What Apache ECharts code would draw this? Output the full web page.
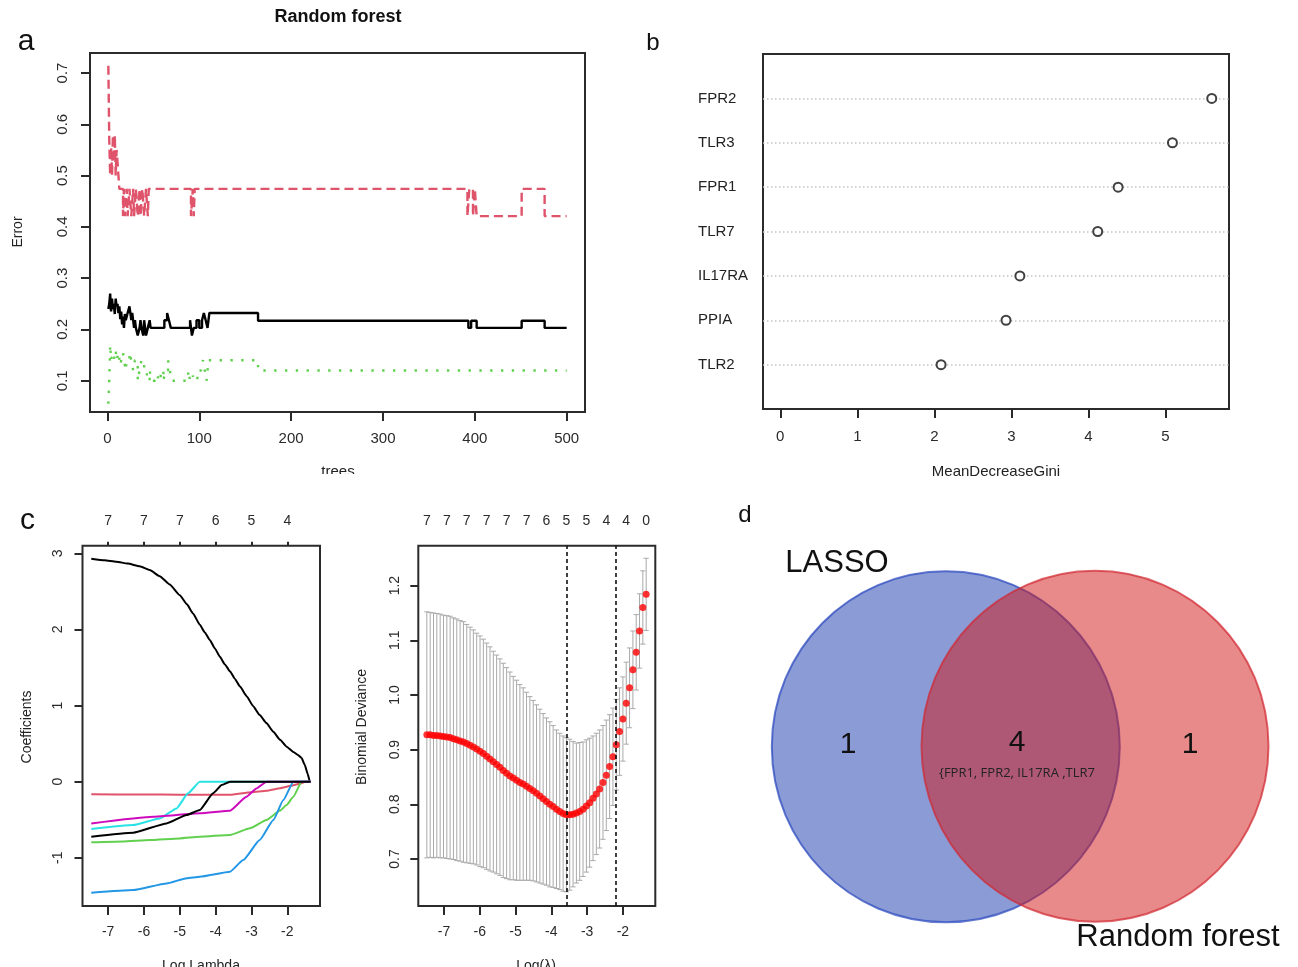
<!DOCTYPE html>
<html><head><meta charset="utf-8">
<script src="https://cdn.jsdelivr.net/npm/echarts@6/dist/echarts.min.js"></script>
<style>html,body{margin:0;padding:0;background:#fff}#main{width:1298px;height:967px}</style>
</head><body><div id="main"></div>
<script>
// ===== Panel a: Random forest error vs trees (change points: [tree, error]) =====
const rfOOB = [[1,0.24],[2,0.25],[3,0.27],[4,0.235],[5,0.26],[6,0.24],[7,0.25],[8,0.23],[9,0.26],[10,0.245],[11,0.25],[12,0.232],[13,0.245],[14,0.22],[15,0.235],[16,0.21],[17,0.225],[18,0.203],[19,0.23],[20,0.218],[22,0.232],[24,0.245],[25,0.232],[26,0.218],[27,0.232],[28,0.218],[29,0.203],[30,0.218],[31,0.203],[33,0.188],[35,0.203],[36,0.218],[37,0.203],[39,0.188],[40,0.218],[41,0.203],[42,0.188],[44,0.203],[46,0.218],[47,0.203],[62,0.218],[65,0.232],[67,0.218],[69,0.203],[90,0.218],[92,0.188],[94,0.203],[97,0.218],[100,0.203],[103,0.218],[105,0.232],[107,0.218],[109,0.203],[111,0.232],[164,0.217],[393,0.203],[396,0.217],[402,0.203],[451,0.217],[476,0.203],[500,0.203]];
const rfClass1 = [[1,0.714],[2,0.571],[3,0.5],[4,0.556],[5,0.5],[6,0.579],[7,0.526],[8,0.579],[9,0.5],[10,0.55],[11,0.526],[12,0.5],[13,0.474],[17,0.421],[18,0.474],[19,0.421],[21,0.474],[22,0.421],[24,0.474],[26,0.421],[28,0.474],[29,0.421],[31,0.474],[33,0.421],[35,0.474],[36,0.421],[38,0.474],[40,0.421],[42,0.474],[44,0.421],[45,0.474],[91,0.421],[93,0.474],[94,0.421],[95,0.474],[392,0.421],[394,0.474],[398,0.421],[400,0.474],[402,0.421],[451,0.474],[476,0.421],[500,0.421]];
const rfClass2 = [[1,0.055],[2,0.1],[3,0.17],[4,0.14],[5,0.15],[7,0.14],[9,0.16],[10,0.14],[12,0.155],[14,0.13],[15,0.14],[17,0.155],[18,0.14],[20,0.12],[21,0.14],[24,0.155],[26,0.14],[28,0.12],[30,0.14],[33,0.1],[35,0.12],[37,0.14],[40,0.12],[43,0.1],[46,0.12],[48,0.1],[52,0.11],[55,0.1],[58,0.12],[61,0.1],[63,0.12],[66,0.14],[68,0.12],[70,0.1],[88,0.12],[90,0.1],[93,0.11],[95,0.1],[98,0.12],[102,0.13],[104,0.14],[106,0.12],[108,0.1],[110,0.14],[164,0.12],[500,0.12]];
const rfXTicks = [0,100,200,300,400,500];
const rfYTicks = [0.1,0.2,0.3,0.4,0.5,0.6,0.7];

// ===== Panel b: MeanDecreaseGini =====
const giniGenes = ['FPR2','TLR3','FPR1','TLR7','IL17RA','PPIA','TLR2'];
const giniValues = [5.60,5.09,4.385,4.12,3.11,2.93,2.087];
const giniXTicks = [0,1,2,3,4,5];

// ===== Panel c (left): LASSO coefficient paths [logLambda, coef] =====
const coefPath1 = [[-7.47,2.93],[-7.1,2.91],[-6.77,2.89],[-6.45,2.865],[-6.12,2.83],[-5.84,2.78],[-5.56,2.70],[-5.28,2.59],[-5.0,2.45],[-4.8,2.33],[-4.63,2.21],[-4.44,2.06],[-4.3,1.96],[-4.16,1.86],[-4.02,1.75],[-3.88,1.64],[-3.74,1.54],[-3.6,1.45],[-3.46,1.35],[-3.32,1.25],[-3.13,1.12],[-2.95,0.99],[-2.77,0.875],[-2.58,0.77],[-2.39,0.655],[-2.2,0.55],[-2.02,0.46],[-1.83,0.39],[-1.7,0.35],[-1.6,0.31],[-1.51,0.22],[-1.43,0.1],[-1.37,0],[-1.35,0]];
const coefPath2 = [[-7.47,-0.165],[-6,-0.168],[-5,-0.170],[-4.4,-0.172],[-3.6,-0.172],[-3.0,-0.14],[-2.58,-0.12],[-2.2,-0.085],[-1.9,-0.055],[-1.6,-0.02],[-1.5,0],[-1.35,0]];
const coefPath3 = [[-7.47,-0.797],[-6.6,-0.785],[-5.84,-0.767],[-5.0,-0.745],[-4.44,-0.723],[-3.6,-0.70],[-3.04,-0.613],[-2.58,-0.504],[-2.2,-0.38],[-2.02,-0.307],[-1.83,-0.197],[-1.6,0],[-1.35,0]];
const coefPath4 = [[-7.47,-1.459],[-6.3,-1.424],[-5.37,-1.337],[-4.81,-1.27],[-4.44,-1.249],[-3.6,-1.183],[-3.23,-1.03],[-2.77,-0.767],[-2.39,-0.504],[-2.11,-0.241],[-1.83,0],[-1.35,0]];
const coefPath5 = [[-7.47,-0.622],[-6.3,-0.57],[-5.56,-0.482],[-5.09,-0.351],[-4.77,-0.153],[-4.44,0],[-1.35,0]];
const coefPath6 = [[-7.47,-0.548],[-5.74,-0.46],[-4.44,-0.416],[-3.6,-0.381],[-3.14,-0.197],[-2.86,-0.088],[-2.58,0],[-1.35,0]];
const coefPath7 = [[-7.47,-0.723],[-6.3,-0.67],[-5.37,-0.548],[-4.81,-0.438],[-4.44,-0.372],[-4.07,-0.153],[-3.83,-0.044],[-3.6,0],[-1.35,0]];
const coefColors = ['#000000','#DF536B','#61D04F','#2297E6','#28E2E5','#CD0BBC','#000000'];
const lambdaTicks = [-7,-6,-5,-4,-3,-2];
const coefTopLabels = ['7','7','7','6','5','4'];
const coefYTicks = [-1,0,1,2,3];

// ===== Panel c (right): cross-validation curve =====
const cvLogLambda = [-7.479,-7.386,-7.293,-7.200,-7.107,-7.014,-6.921,-6.829,-6.736,-6.643,-6.550,-6.457,-6.364,-6.271,-6.179,-6.086,-5.993,-5.900,-5.807,-5.714,-5.621,-5.529,-5.436,-5.343,-5.250,-5.157,-5.064,-4.971,-4.879,-4.786,-4.693,-4.600,-4.507,-4.414,-4.321,-4.229,-4.136,-4.043,-3.950,-3.857,-3.764,-3.671,-3.579,-3.486,-3.393,-3.300,-3.207,-3.114,-3.021,-2.929,-2.836,-2.743,-2.650,-2.557,-2.464,-2.371,-2.279,-2.186,-2.093,-2.000,-1.907,-1.814,-1.721,-1.629,-1.536,-1.443,-1.350];
const cvMean = [0.927,0.927,0.926,0.926,0.925,0.924,0.923,0.922,0.920,0.918,0.916,0.914,0.911,0.908,0.905,0.901,0.897,0.893,0.888,0.883,0.878,0.873,0.868,0.862,0.857,0.852,0.848,0.844,0.840,0.837,0.833,0.829,0.825,0.820,0.815,0.810,0.805,0.800,0.796,0.791,0.787,0.783,0.781,0.781,0.782,0.784,0.787,0.791,0.797,0.803,0.811,0.819,0.828,0.840,0.853,0.869,0.887,0.909,0.933,0.956,0.985,1.013,1.046,1.078,1.117,1.160,1.184];
const cvSD = [0.225,0.224,0.224,0.223,0.223,0.222,0.222,0.222,0.221,0.221,0.220,0.220,0.218,0.216,0.214,0.212,0.211,0.209,0.207,0.205,0.202,0.200,0.198,0.196,0.193,0.190,0.186,0.183,0.179,0.176,0.172,0.168,0.165,0.162,0.159,0.156,0.153,0.151,0.148,0.145,0.143,0.142,0.141,0.138,0.133,0.128,0.126,0.123,0.121,0.118,0.114,0.111,0.108,0.104,0.101,0.095,0.089,0.083,0.080,0.077,0.075,0.073,0.071,0.069,0.068,0.067,0.066];
const cvTopPos = [-7.479,-6.921,-6.364,-5.807,-5.250,-4.693,-4.136,-3.579,-3.021,-2.464,-1.907,-1.350];
const cvTopLabels = ['7','7','7','7','7','7','6','5','5','4','4','0'];
const cvYTicks = [0.7,0.8,0.9,1.0,1.1,1.2];
const lambdaMin = -3.579, lambda1se = -2.186;

// ===== Panel d: Venn =====
const vennSets = ['LASSO','Random forest'];
const vennCounts = [1,4,1];
const vennShared = ['FPR1','FPR2','IL17RA','TLR7'];

const FONT = '"Liberation Sans", Arial, sans-serif';
const AX = '#2a2a2a';

function mkGrid(l,t,w,h){return {left:l,top:t,width:w,height:h,show:true,borderColor:'#2b2b2b',borderWidth:2,backgroundColor:'transparent',containLabel:false,outerBoundsMode:'none'};}
function valAxis(opt){
  return Object.assign({
    type:'value', scale:true,
    axisLine:{show:false,onZero:false}, splitLine:{show:false},
    axisTick:{show:true,length:9,lineStyle:{color:AX,width:2}},
    axisLabel:{fontSize:15,color:AX,fontFamily:FONT}
  }, opt);
}
const fmtNum = v => (Math.round(v*10)/10).toFixed(1);

const chart = echarts.init(document.getElementById('main'), null, {renderer:'canvas'});

const errBarData = cvLogLambda.map((x,i)=>[x, cvMean[i]-cvSD[i], cvMean[i]+cvSD[i]]);

const option = {
  backgroundColor:'#fff',
  animation:false,
  textStyle:{fontFamily:FONT},
  grid:[
    mkGrid(90,53,495,359),
    mkGrid(763,54,466,355),
    mkGrid(82.5,545.7,237.5,360.3),
    mkGrid(418.3,545.7,237,360.3)
  ],
  xAxis:[
    valAxis({gridIndex:0,min:-18.96,max:519.96,
      axisTick:{show:true,length:9,lineStyle:{color:AX,width:2},customValues:rfXTicks},
      axisLabel:{fontSize:15,color:AX,fontFamily:FONT,margin:19,customValues:rfXTicks}}),
    valAxis({gridIndex:1,min:-0.224,max:5.824,
      axisTick:{show:true,length:9,lineStyle:{color:AX,width:2},customValues:giniXTicks},
      axisLabel:{fontSize:15,color:AX,fontFamily:FONT,margin:20,customValues:giniXTicks}}),
    valAxis({gridIndex:2,min:-7.715,max:-1.087,
      axisTick:{show:true,length:9,lineStyle:{color:AX,width:2},customValues:lambdaTicks},
      axisLabel:{fontSize:14,color:AX,fontFamily:FONT,margin:19,customValues:lambdaTicks}}),
    valAxis({gridIndex:2,position:'top',min:-7.715,max:-1.087,
      axisTick:{show:true,length:4,lineStyle:{color:AX,width:2},customValues:lambdaTicks},
      axisLabel:{fontSize:14,color:AX,fontFamily:FONT,margin:18,customValues:lambdaTicks,
        formatter:v=>coefTopLabels[lambdaTicks.findIndex(t=>Math.abs(t-v)<1e-6)]||''}}),
    valAxis({gridIndex:3,min:-7.718,max:-1.095,
      axisTick:{show:true,length:9,lineStyle:{color:AX,width:2},customValues:lambdaTicks},
      axisLabel:{fontSize:14,color:AX,fontFamily:FONT,margin:19,customValues:lambdaTicks}}),
    valAxis({gridIndex:3,position:'top',min:-7.718,max:-1.095,
      axisTick:{show:false},
      axisLabel:{fontSize:14,color:AX,fontFamily:FONT,margin:18,customValues:cvTopPos,
        formatter:v=>cvTopLabels[cvTopPos.findIndex(t=>Math.abs(t-v)<1e-6)]||''}})
  ],
  yAxis:[
    valAxis({gridIndex:0,min:0.039,max:0.739,
      axisTick:{show:true,length:9,lineStyle:{color:AX,width:2},customValues:rfYTicks},
      axisLabel:{fontSize:15,color:AX,fontFamily:FONT,margin:20,rotate:90,customValues:rfYTicks,formatter:fmtNum}}),
    valAxis({gridIndex:1,min:0,max:8,
      axisTick:{show:false},
      axisLabel:{fontSize:15,color:'#222',fontFamily:FONT,margin:65,align:'left',customValues:[1,2,3,4,5,6,7],
        formatter:v=>giniGenes[giniGenes.length-Math.round(v)]}}),
    valAxis({gridIndex:2,min:-1.633,max:3.1,
      axisTick:{show:true,length:8,lineStyle:{color:AX,width:2},customValues:coefYTicks},
      axisLabel:{fontSize:14,color:AX,fontFamily:FONT,margin:17,rotate:90,customValues:coefYTicks}}),
    valAxis({gridIndex:3,min:0.614,max:1.273,
      axisTick:{show:true,length:8,lineStyle:{color:AX,width:2},customValues:cvYTicks},
      axisLabel:{fontSize:14,color:AX,fontFamily:FONT,margin:16,rotate:90,customValues:cvYTicks,formatter:fmtNum}})
  ],
  series:[
    {type:'line',xAxisIndex:0,yAxisIndex:0,data:rfOOB,step:'end',showSymbol:false,
      lineStyle:{color:'#000',width:2.4}},
    {type:'line',xAxisIndex:0,yAxisIndex:0,data:rfClass1,step:'end',showSymbol:false,
      lineStyle:{color:'#DF536B',width:2.4,type:[9,5]}},
    {type:'line',xAxisIndex:0,yAxisIndex:0,data:rfClass2,step:'end',showSymbol:false,
      lineStyle:{color:'#61D04F',width:2.4,type:[2.4,8.4]}},
    {type:'scatter',xAxisIndex:1,yAxisIndex:1,
      data:giniValues.map((v,i)=>[v, giniGenes.length-i]),
      symbol:'emptyCircle',symbolSize:9,
      itemStyle:{color:'#111',borderColor:'#111',borderWidth:2},
      markLine:{silent:true,symbol:'none',label:{show:false},animation:false,
        lineStyle:{color:'#c4c4c4',width:1.5,type:[1.5,2.5]},
        data:giniGenes.map((g,i)=>({yAxis:giniGenes.length-i}))},
      z:5},
    ...[coefPath1,coefPath2,coefPath3,coefPath4,coefPath5,coefPath6,coefPath7].map((p,i)=>({
      type:'line',xAxisIndex:2,yAxisIndex:2,data:p,showSymbol:false,smooth:0.15,smoothMonotone:'x',
      lineStyle:{color:coefColors[i],width:2}, z:2+i
    })),
    {type:'custom',xAxisIndex:4,yAxisIndex:3,data:errBarData,
      renderItem:(params,api)=>{
        const x=api.value(0), lo=api.value(1), hi=api.value(2);
        const a=api.coord([x,lo]), b=api.coord([x,hi]);
        const w=2.6, st={stroke:'#a9a9a9',lineWidth:1};
        return {type:'group',children:[
          {type:'line',shape:{x1:a[0],y1:a[1],x2:b[0],y2:b[1]},style:st},
          {type:'line',shape:{x1:b[0]-w,y1:b[1],x2:b[0]+w,y2:b[1]},style:st},
          {type:'line',shape:{x1:a[0]-w,y1:a[1],x2:a[0]+w,y2:a[1]},style:st}
        ]};
      }, z:2},
    {type:'scatter',xAxisIndex:4,yAxisIndex:3,
      data:cvLogLambda.map((x,i)=>[x,cvMean[i]]),
      symbol:'circle',symbolSize:7,itemStyle:{color:'#ff0000'},z:4,
      markLine:{silent:true,symbol:'none',label:{show:false},animation:false,
        lineStyle:{color:'#111',width:1.6,type:[4,3]},
        data:[{xAxis:lambdaMin},{xAxis:lambda1se}]}}
  ],
  graphic:[
    {type:'text',x:338,y:17,style:{text:'Random forest',font:'bold 18px '+FONT,fill:'#111',textAlign:'center',textVerticalAlign:'middle'}},
    {type:'text',x:26,y:42,style:{text:'a',font:'30px '+FONT,fill:'#111',textAlign:'center',textVerticalAlign:'middle'}},
    {type:'text',x:18,y:232,rotation:Math.PI/2,style:{text:'Error',font:'14px '+FONT,fill:'#222',textAlign:'center',textVerticalAlign:'middle'}},
    {type:'text',x:338,y:464,style:{text:'trees',font:'15px '+FONT,fill:'#222',textAlign:'center',textVerticalAlign:'top'}},
    {type:'rect',shape:{x:300,y:474,width:80,height:20},style:{fill:'#fff'},z:100},
    {type:'text',x:653,y:43,style:{text:'b',font:'24px '+FONT,fill:'#111',textAlign:'center',textVerticalAlign:'middle'}},
    {type:'text',x:996,y:472,style:{text:'MeanDecreaseGini',font:'15px '+FONT,fill:'#222',textAlign:'center',textVerticalAlign:'middle'}},
    {type:'text',x:27.5,y:521,style:{text:'c',font:'30px '+FONT,fill:'#111',textAlign:'center',textVerticalAlign:'middle'}},
    {type:'text',x:27.5,y:727,rotation:Math.PI/2,style:{text:'Coefficients',font:'14px '+FONT,fill:'#222',textAlign:'center',textVerticalAlign:'middle'}},
    {type:'text',x:201,y:959,style:{text:'Log Lambda',font:'14px '+FONT,fill:'#222',textAlign:'center',textVerticalAlign:'top'}},
    {type:'text',x:362,y:727,rotation:Math.PI/2,style:{text:'Binomial Deviance',font:'14px '+FONT,fill:'#222',textAlign:'center',textVerticalAlign:'middle'}},
    {type:'text',x:536,y:959,style:{text:'Log(\u03bb)',font:'14px '+FONT,fill:'#222',textAlign:'center',textVerticalAlign:'top'}},
    {type:'text',x:745,y:515,style:{text:'d',font:'24px '+FONT,fill:'#111',textAlign:'center',textVerticalAlign:'middle'}},
    {type:'ellipse',shape:{cx:945.8,cy:746.8,rx:174,ry:175.5},style:{fill:'rgba(21,55,173,0.5)',stroke:'rgba(40,70,190,0.7)',lineWidth:2}},
    {type:'ellipse',shape:{cx:1095,cy:746.3,rx:173.5,ry:175.5},style:{fill:'rgba(209,21,21,0.5)',stroke:'rgba(210,40,50,0.7)',lineWidth:2}},
    {type:'text',x:837,y:563,style:{text:vennSets[0],font:'31px '+FONT,fill:'#111',textAlign:'center',textVerticalAlign:'middle'}},
    {type:'text',x:1178,y:937,style:{text:vennSets[1],font:'31px '+FONT,fill:'#111',textAlign:'center',textVerticalAlign:'middle'}},
    {type:'text',x:848,y:745,style:{text:String(vennCounts[0]),font:'30px '+FONT,fill:'#111',textAlign:'center',textVerticalAlign:'middle'}},
    {type:'text',x:1017,y:743,style:{text:String(vennCounts[1]),font:'30px '+FONT,fill:'#111',textAlign:'center',textVerticalAlign:'middle'}},
    {type:'text',x:1190,y:745,style:{text:String(vennCounts[2]),font:'30px '+FONT,fill:'#111',textAlign:'center',textVerticalAlign:'middle'}},
    {type:'text',x:1017,y:773,style:{text:'{'+vennShared.slice(0,3).join(', ')+' ,'+vennShared[3],font:'13px "Open Sans", sans-serif',fill:'#222',textAlign:'center',textVerticalAlign:'middle'}}
  ]
};
chart.setOption(option);
</script>
</body></html>
